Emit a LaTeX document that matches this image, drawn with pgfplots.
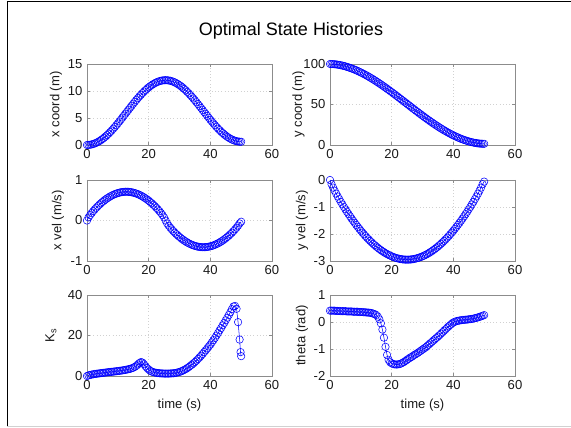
\documentclass[border=0pt]{standalone}
\usepackage{fontspec}
\setmainfont{Liberation Sans}
\usepackage{pgfplots}
\usepackage{pgfplotstable}
\pgfplotsset{compat=1.18}

\pgfplotstableread{
t x y vx vy th
0 0.000 100.00 0.000 0.000 0.42
0.5 0.011 99.96 0.076 -0.156 0.42
1 0.045 99.85 0.133 -0.281 0.42
1.5 0.102 99.68 0.183 -0.396 0.42
2 0.181 99.46 0.230 -0.505 0.41
2.5 0.282 99.18 0.273 -0.610 0.41
3 0.405 98.85 0.314 -0.711 0.41
3.5 0.549 98.47 0.353 -0.809 0.40
4 0.714 98.04 0.390 -0.904 0.40
4.5 0.899 97.57 0.425 -0.997 0.40
5 1.103 97.05 0.458 -1.087 0.40
5.5 1.325 96.48 0.489 -1.176 0.39
6 1.566 95.87 0.519 -1.261 0.39
6.5 1.824 95.22 0.545 -1.346 0.39
7 2.097 94.52 0.570 -1.428 0.39
7.5 2.385 93.79 0.593 -1.508 0.38
8 2.688 93.02 0.614 -1.586 0.38
8.5 3.000 92.20 0.633 -1.662 0.38
9 3.325 91.35 0.650 -1.736 0.38
9.5 3.659 90.47 0.665 -1.808 0.37
10 4.001 89.55 0.677 -1.878 0.37
10.5 4.358 88.59 0.688 -1.946 0.37
11 4.717 87.60 0.697 -2.012 0.36
11.5 5.080 86.58 0.703 -2.076 0.36
12 5.446 85.52 0.708 -2.138 0.35
12.5 5.815 84.44 0.710 -2.197 0.35
13 6.185 83.33 0.710 -2.255 0.34
13.5 6.554 82.19 0.708 -2.310 0.33
14 6.920 81.02 0.703 -2.364 0.31
14.5 7.283 79.82 0.697 -2.415 0.29
15 7.642 78.60 0.688 -2.464 0.26
15.5 7.999 77.36 0.677 -2.510 0.20
16 8.341 76.09 0.665 -2.555 0.10
16.5 8.675 74.80 0.650 -2.597 -0.05
17 9.000 73.50 0.633 -2.637 -0.28
17.5 9.312 72.17 0.614 -2.674 -0.58
18 9.615 70.82 0.593 -2.710 -0.92
18.5 9.903 69.46 0.570 -2.743 -1.22
19 10.176 68.08 0.545 -2.773 -1.40
19.5 10.434 66.69 0.519 -2.801 -1.49
20 10.675 65.28 0.489 -2.827 -1.53
20.5 10.897 63.86 0.458 -2.850 -1.56
21 11.101 62.43 0.425 -2.871 -1.57
21.5 11.286 60.99 0.390 -2.890 -1.575
22 11.451 59.54 0.353 -2.905 -1.57
22.5 11.595 58.08 0.314 -2.919 -1.56
23 11.718 56.62 0.273 -2.930 -1.54
23.5 11.819 55.16 0.230 -2.939 -1.51
24 11.898 53.68 0.183 -2.945 -1.48
24.5 11.955 52.21 0.133 -2.949 -1.44
25 11.989 50.74 0.076 -2.950 -1.40
25.5 12.000 49.26 0.000 -2.949 -1.36
26 11.988 47.79 -0.073 -2.945 -1.32
26.5 11.953 46.32 -0.127 -2.939 -1.29
27 11.895 44.85 -0.176 -2.930 -1.25
27.5 11.814 43.39 -0.220 -2.919 -1.21
28 11.710 41.93 -0.262 -2.905 -1.18
28.5 11.583 40.48 -0.301 -2.890 -1.14
29 11.435 39.04 -0.338 -2.871 -1.10
29.5 11.266 37.61 -0.373 -2.850 -1.06
30 11.077 36.19 -0.406 -2.827 -1.02
30.5 10.868 34.79 -0.437 -2.801 -0.98
31 10.640 33.39 -0.467 -2.773 -0.94
31.5 10.395 32.01 -0.494 -2.743 -0.89
32 10.132 30.65 -0.519 -2.710 -0.84
32.5 9.854 29.30 -0.542 -2.674 -0.79
33 9.561 27.98 -0.563 -2.637 -0.74
33.5 9.255 26.67 -0.582 -2.597 -0.69
34 8.937 25.38 -0.599 -2.555 -0.64
34.5 8.607 24.11 -0.614 -2.510 -0.59
35 8.269 22.87 -0.627 -2.464 -0.54
35.5 7.923 21.65 -0.638 -2.415 -0.49
36 7.568 20.45 -0.647 -2.364 -0.43
36.5 7.210 19.28 -0.653 -2.310 -0.38
37 6.848 18.14 -0.658 -2.255 -0.32
37.5 6.483 17.03 -0.660 -2.197 -0.27
38 6.117 15.95 -0.660 -2.138 -0.21
38.5 5.752 14.89 -0.658 -2.076 -0.16
39 5.390 13.87 -0.653 -2.012 -0.11
39.5 5.032 12.88 -0.647 -1.946 -0.06
40 4.677 11.92 -0.638 -1.878 -0.02
40.5 4.331 11.00 -0.627 -1.808 0.01
41 3.993 10.12 -0.614 -1.736 0.03
41.5 3.663 9.27 -0.599 -1.662 0.045
42 3.345 8.45 -0.582 -1.586 0.055
42.5 3.039 7.68 -0.563 -1.508 0.065
43 2.746 6.95 -0.542 -1.428 0.075
43.5 2.468 6.25 -0.519 -1.346 0.08
44 2.205 5.60 -0.494 -1.261 0.085
44.5 1.959 4.99 -0.467 -1.176 0.09
45 1.733 4.43 -0.437 -1.087 0.10
45.5 1.523 3.90 -0.406 -0.997 0.105
46 1.334 3.43 -0.373 -0.904 0.115
46.5 1.164 3.00 -0.338 -0.809 0.125
47 1.017 2.62 -0.301 -0.711 0.14
47.5 0.890 2.29 -0.262 -0.610 0.155
48 0.786 2.01 -0.220 -0.505 0.17
48.5 0.705 1.79 -0.176 -0.396 0.19
49 0.647 1.62 -0.127 -0.281 0.21
49.5 0.612 1.51 -0.073 -0.156 0.23
50 0.600 1.47 -0.030 -0.060 0.255
}\states

\pgfplotstableread{
t k
0 0.0
0.5 0.3
1 0.5
1.5 0.7
2 0.85
2.5 1.0
3 1.1
3.5 1.2
4 1.3
4.5 1.4
5 1.5
5.5 1.6
6 1.7
6.5 1.8
7 1.9
7.5 2.0
8 2.05
8.5 2.15
9 2.25
9.5 2.35
10 2.45
10.5 2.55
11 2.65
11.5 2.75
12 2.9
12.5 3.05
13 3.2
13.5 3.35
14 3.55
14.5 3.8
15 4.1
15.5 4.5
16 5.0
16.5 5.7
17 6.4
17.5 6.9
18 6.6
18.5 5.8
19 4.8
19.5 3.9
20 3.2
20.5 2.6
21 2.2
21.5 1.9
22 1.7
22.5 1.55
23 1.45
23.5 1.35
24 1.3
24.5 1.25
25 1.2
25.5 1.2
26 1.2
26.5 1.2
27 1.25
27.5 1.3
28 1.35
28.5 1.45
29 1.6
29.5 1.8
30 2.0
30.5 2.3
31 2.6
31.5 3.0
32 3.4
32.5 3.9
33 4.4
33.5 5.0
34 5.6
34.5 6.2
35 6.9
35.5 7.6
36 8.4
36.5 9.2
37 10.0
37.5 10.9
38 11.8
38.5 12.7
39 13.6
39.5 14.6
40 15.5
40.5 16.6
41 17.7
41.5 18.8
42 20.0
42.5 21.2
43 22.5
43.5 23.7
44 25.0
44.5 26.2
45 27.5
45.5 28.8
46 30.1
46.5 31.5
47 33.0
47.5 34.3
48 34.6
48.5 33.2
49 26.6
49.5 18.0
49.8 11.8
50 9.8
}\kstab

\pgfplotsset{
  sub/.style={
    scale only axis, width=138.75pt, height=60.75pt,
    xmin=0, xmax=60, xtick={0,20,40,60},
    clip=false,
    axis line style={draw=black!45},
    every tick/.style={draw=black!45},
    major tick length=2.5pt,
    grid=major,
    major grid style={dotted, draw=black!18, line width=0.4pt},
    tick label style={font=\fontsize{9.8}{11}\selectfont, text=black!90},
    label style={font=\fontsize{9.8}{11}\selectfont, text=black!90},
    /pgf/number format/assume math mode=true,
    ylabel style={anchor=center},
  },
  ser/.style={blue, line width=0.4pt, mark=o, mark size=2.8pt,
    mark options={line width=0.4pt}},
}

\begin{document}
\begin{tikzpicture}
\path[use as bounding box] (0,0) rectangle (428.25pt,321pt);
\draw[black, line width=1.1pt] (5.5pt,1pt) -- (5.5pt,319.9pt) -- (428.25pt,319.9pt);
\draw[black!18, line width=1pt] (5.5pt,1.1pt) -- (428.25pt,1.1pt);
\node at (218.25pt,297.75pt) {\fontsize{13.5}{16}\selectfont Optimal State Histories};

% row 1
\begin{axis}[sub, at={(65.25pt,212.25pt)}, anchor=south west,
  ymin=0, ymax=15, ytick={0,5,10,15},
  ylabel={x coord (m)}, ylabel style={at={(axis description cs:-0.168,0.5)}}]
\addplot[ser] table[x=t,y=x] {\states};
\end{axis}
\begin{axis}[sub, at={(247.5pt,212.25pt)}, anchor=south west,
  ymin=0, ymax=100, ytick={0,50,100},
  ylabel={y coord (m)}, ylabel style={at={(axis description cs:-0.17,0.5)}}]
\addplot[ser] table[x=t,y=y] {\states};
\end{axis}

% row 2
\begin{axis}[sub, at={(65.25pt,125.25pt)}, anchor=south west,
  ymin=-1, ymax=1, ytick={-1,0,1},
  ylabel={x vel (m/s)}, ylabel style={at={(axis description cs:-0.157,0.5)}}]
\addplot[ser] table[x=t,y=vx] {\states};
\end{axis}
\begin{axis}[sub, at={(247.5pt,125.25pt)}, anchor=south west,
  ymin=-3, ymax=0, ytick={-3,-2,-1,0},
  ylabel={y vel (m/s)}, ylabel style={at={(axis description cs:-0.152,0.5)}}]
\addplot[ser] table[x=t,y=vy] {\states};
\end{axis}

% row 3
\begin{axis}[sub, at={(65.25pt,39pt)}, anchor=south west,
  ymin=0, ymax=40, ytick={0,20,40},
  ylabel={K\textsubscript{s}}, ylabel style={at={(axis description cs:-0.195,0.5)}},
  xlabel={time (s)}, xlabel style={at={(axis description cs:0.5,-0.36)}, anchor=center}]
\addplot[ser] table[x=t,y=k] {\kstab};
\end{axis}
\begin{axis}[sub, at={(247.5pt,39pt)}, anchor=south west,
  ymin=-2, ymax=1, ytick={-2,-1,0,1},
  ylabel={theta (rad)}, ylabel style={at={(axis description cs:-0.152,0.5)}},
  xlabel={time (s)}, xlabel style={at={(axis description cs:0.5,-0.36)}, anchor=center}]
\addplot[ser] table[x=t,y=th] {\states};
\end{axis}
\end{tikzpicture}
\end{document}
